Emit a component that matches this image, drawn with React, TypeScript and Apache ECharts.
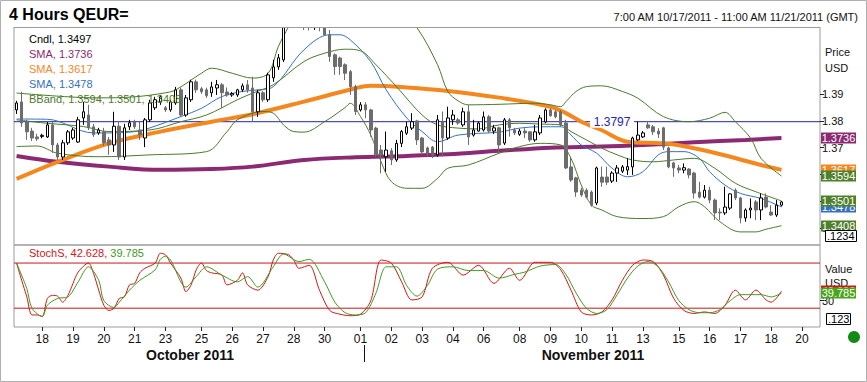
import React, { useEffect, useRef } from 'react';
import * as echarts from 'echarts';

const FONT = "'Liberation Sans', Arial, sans-serif";
const NARROW = "'Liberation Sans Narrow', 'Liberation Sans', Arial, sans-serif";

// trading sessions shown on the axis (4-hour bars, weekends collapsed)
const tradingDays: [string, string][] = [
  ['10/17', 'first'], ['10/18', 'full'], ['10/19', 'full'], ['10/20', 'full'], ['10/21', 'full'], ['10/23', 'sun'],
  ['10/24', 'full'], ['10/25', 'full'], ['10/26', 'full'], ['10/27', 'full'], ['10/28', 'full'], ['10/30', 'sun'],
  ['10/31', 'full'], ['11/01', 'full'], ['11/02', 'full'], ['11/03', 'full'], ['11/04', 'full'], ['11/06', 'sun'],
  ['11/07', 'full'], ['11/08', 'full'], ['11/09', 'full'], ['11/10', 'full'], ['11/11', 'full'], ['11/13', 'sun'],
  ['11/14', 'full'], ['11/15', 'full'], ['11/16', 'full'], ['11/17', 'full'], ['11/18', 'full'], ['11/20', 'sun'],
  ['11/21', 'last'],
];
const sessionHours: Record<string, number[]> = {
  first: [7, 11, 15, 19, 23], full: [3, 7, 11, 15, 19, 23], sun: [23], last: [3, 7, 11],
};
const labeledDates = ['10/18', '10/19', '10/20', '10/21', '10/23', '10/25', '10/26', '10/27', '10/28', '10/30',
  '11/01', '11/02', '11/03', '11/04', '11/06', '11/08', '11/09', '11/10', '11/11', '11/13', '11/15', '11/16',
  '11/17', '11/18', '11/20'];
const priceTicks = [1.34, 1.35, 1.36, 1.37, 1.38, 1.39];
const stochTicks = [30];

// candles: [open, close, low, high]
const candles: number[][] = [
  [1.3841, 1.3867, 1.3826, 1.3875], [1.3871, 1.3792, 1.3778, 1.3909], [1.3796, 1.3759, 1.3729, 1.3804], [1.3762, 1.3736, 1.3725, 1.3774],
  [1.3740, 1.3733, 1.3725, 1.3752], [1.3742, 1.3746, 1.3735, 1.3752], [1.3740, 1.3785, 1.3736, 1.3796], [1.3785, 1.3710, 1.3680, 1.3796],
  [1.3710, 1.3665, 1.3654, 1.3718], [1.3665, 1.3718, 1.3654, 1.3729], [1.3718, 1.3759, 1.3710, 1.3766], [1.3736, 1.3766, 1.3729, 1.3774],
  [1.3721, 1.3804, 1.3718, 1.3815], [1.3811, 1.3834, 1.3785, 1.3871], [1.3822, 1.3774, 1.3766, 1.3860], [1.3778, 1.3748, 1.3740, 1.3789],
  [1.3755, 1.3766, 1.3748, 1.3774], [1.3759, 1.3718, 1.3706, 1.3774], [1.3729, 1.3710, 1.3673, 1.3740], [1.3710, 1.3780, 1.3684, 1.3834],
  [1.3780, 1.3665, 1.3654, 1.3800], [1.3665, 1.3774, 1.3654, 1.3789], [1.3778, 1.3793, 1.3766, 1.3804], [1.3796, 1.3778, 1.3770, 1.3804],
  [1.3766, 1.3748, 1.3729, 1.3796], [1.3736, 1.3804, 1.3702, 1.3811], [1.3804, 1.3867, 1.3796, 1.3879], [1.3849, 1.3879, 1.3841, 1.3890],
  [1.3871, 1.3890, 1.3860, 1.3897], [1.3849, 1.3841, 1.3834, 1.3856], [1.3841, 1.3871, 1.3834, 1.3879], [1.3867, 1.3916, 1.3860, 1.3927],
  [1.3916, 1.3822, 1.3815, 1.3924], [1.3822, 1.3886, 1.3815, 1.3897], [1.3879, 1.3946, 1.3871, 1.3954], [1.3946, 1.3916, 1.3905, 1.3954],
  [1.3920, 1.3909, 1.3901, 1.3927], [1.3916, 1.3894, 1.3886, 1.3924], [1.3905, 1.3927, 1.3890, 1.3946], [1.3923, 1.3935, 1.3897, 1.3953],
  [1.3935, 1.3905, 1.3849, 1.3942], [1.3908, 1.3897, 1.3890, 1.3925], [1.3897, 1.3902, 1.3890, 1.3908], [1.3897, 1.3916, 1.3890, 1.3920],
  [1.3916, 1.3931, 1.3908, 1.3940], [1.3935, 1.3916, 1.3905, 1.3953], [1.3923, 1.3834, 1.3796, 1.3965], [1.3834, 1.3905, 1.3815, 1.3916],
  [1.3905, 1.3879, 1.3871, 1.3912], [1.3879, 1.3972, 1.3871, 1.3980], [1.3961, 1.4002, 1.3946, 1.4028], [1.4002, 1.4036, 1.3991, 1.4050],
  [1.4028, 1.4170, 1.4020, 1.4190], [1.4170, 1.4230, 1.4160, 1.4247], [1.4230, 1.4200, 1.4180, 1.4240], [1.4200, 1.4190, 1.4170, 1.4215],
  [1.4190, 1.4175, 1.4140, 1.4200], [1.4175, 1.4165, 1.4138, 1.4190], [1.4165, 1.4170, 1.4140, 1.4185], [1.4170, 1.4150, 1.4135, 1.4180],
  [1.4150, 1.4122, 1.4118, 1.4165], [1.4122, 1.4041, 1.4021, 1.4140], [1.4047, 1.4003, 1.3972, 1.4052], [1.4035, 1.4003, 1.3972, 1.4040],
  [1.4010, 1.3978, 1.3953, 1.4015], [1.3984, 1.3928, 1.3897, 1.3990], [1.3928, 1.3835, 1.3822, 1.3935], [1.3841, 1.3860, 1.3835, 1.3870],
  [1.3860, 1.3841, 1.3810, 1.3870], [1.3841, 1.3766, 1.3741, 1.3845], [1.3773, 1.3673, 1.3666, 1.3778], [1.3691, 1.3673, 1.3604, 1.3710],
  [1.3666, 1.3691, 1.3610, 1.3760], [1.3688, 1.3654, 1.3635, 1.3698], [1.3654, 1.3716, 1.3647, 1.3729], [1.3716, 1.3760, 1.3702, 1.3766],
  [1.3754, 1.3778, 1.3747, 1.3797], [1.3773, 1.3797, 1.3766, 1.3829], [1.3800, 1.3729, 1.3710, 1.3804], [1.3736, 1.3684, 1.3680, 1.3740],
  [1.3699, 1.3680, 1.3666, 1.3704], [1.3702, 1.3673, 1.3661, 1.3706], [1.3673, 1.3804, 1.3666, 1.3822], [1.3796, 1.3736, 1.3666, 1.3835],
  [1.3736, 1.3811, 1.3729, 1.3853], [1.3804, 1.3822, 1.3785, 1.3841], [1.3804, 1.3792, 1.3785, 1.3811], [1.3785, 1.3834, 1.3778, 1.3849],
  [1.3834, 1.3740, 1.3710, 1.3860], [1.3747, 1.3766, 1.3741, 1.3804], [1.3762, 1.3792, 1.3760, 1.3797], [1.3766, 1.3815, 1.3760, 1.3835],
  [1.3815, 1.3762, 1.3755, 1.3822], [1.3762, 1.3774, 1.3751, 1.3785], [1.3774, 1.3710, 1.3684, 1.3778], [1.3717, 1.3804, 1.3710, 1.3811],
  [1.3804, 1.3774, 1.3741, 1.3811], [1.3766, 1.3755, 1.3747, 1.3774], [1.3750, 1.3762, 1.3744, 1.3770], [1.3762, 1.3755, 1.3736, 1.3773],
  [1.3759, 1.3729, 1.3722, 1.3762], [1.3729, 1.3759, 1.3722, 1.3785], [1.3755, 1.3811, 1.3747, 1.3822], [1.3796, 1.3841, 1.3791, 1.3847],
  [1.3841, 1.3819, 1.3816, 1.3847], [1.3834, 1.3815, 1.3810, 1.3840], [1.3834, 1.3785, 1.3778, 1.3841], [1.3792, 1.3624, 1.3620, 1.3804],
  [1.3628, 1.3579, 1.3572, 1.3666], [1.3587, 1.3534, 1.3516, 1.3591], [1.3541, 1.3523, 1.3516, 1.3550], [1.3541, 1.3515, 1.3510, 1.3548],
  [1.3534, 1.3485, 1.3479, 1.3540], [1.3493, 1.3624, 1.3485, 1.3629], [1.3590, 1.3571, 1.3554, 1.3629], [1.3590, 1.3571, 1.3560, 1.3629],
  [1.3575, 1.3605, 1.3568, 1.3612], [1.3605, 1.3624, 1.3572, 1.3635], [1.3612, 1.3628, 1.3605, 1.3635], [1.3616, 1.3629, 1.3598, 1.3660],
  [1.3628, 1.3736, 1.3598, 1.3741], [1.3729, 1.3747, 1.3725, 1.3797], [1.3740, 1.3755, 1.3736, 1.3762], [1.3785, 1.3774, 1.3770, 1.3800],
  [1.3778, 1.3759, 1.3747, 1.3785], [1.3762, 1.3751, 1.3736, 1.3773], [1.3774, 1.3702, 1.3691, 1.3778], [1.3699, 1.3628, 1.3623, 1.3704],
  [1.3643, 1.3624, 1.3591, 1.3647], [1.3624, 1.3616, 1.3604, 1.3635], [1.3616, 1.3625, 1.3604, 1.3641], [1.3620, 1.3598, 1.3585, 1.3623],
  [1.3605, 1.3530, 1.3510, 1.3610], [1.3534, 1.3515, 1.3510, 1.3572], [1.3515, 1.3541, 1.3510, 1.3560], [1.3541, 1.3504, 1.3492, 1.3554],
  [1.3504, 1.3456, 1.3429, 1.3510], [1.3459, 1.3456, 1.3429, 1.3473], [1.3456, 1.3478, 1.3448, 1.3554], [1.3474, 1.3527, 1.3467, 1.3529],
  [1.3541, 1.3512, 1.3504, 1.3548], [1.3512, 1.3437, 1.3417, 1.3516], [1.3437, 1.3467, 1.3423, 1.3473], [1.3467, 1.3474, 1.3436, 1.3510],
  [1.3497, 1.3467, 1.3429, 1.3504], [1.3467, 1.3512, 1.3429, 1.3529], [1.3515, 1.3478, 1.3473, 1.3529], [1.3459, 1.3448, 1.3444, 1.3485],
  [1.3448, 1.3485, 1.3441, 1.3504], [1.3485, 1.3497, 1.3480, 1.3500],
];

// indicator readings: [bar index, value]
const smaPurple: number[][] = [[0, 1.3669], [8, 1.3647], [18, 1.3629], [28, 1.3617], [38, 1.3620], [46, 1.3629], [56, 1.3654],
  [66, 1.3664], [76, 1.3669], [84, 1.3675], [94, 1.3688], [104, 1.3700], [114, 1.3704], [122, 1.3710], [132, 1.3720], [142, 1.3729], [149, 1.3736]];
const smaOrange: number[][] = [[0, 1.3583], [8, 1.3647], [18, 1.3716], [28, 1.3760], [38, 1.3797], [46, 1.3825], [56, 1.3872],
  [66, 1.3922], [69, 1.3931], [76, 1.3925], [84, 1.3912], [94, 1.3887], [104, 1.3853], [107, 1.3829], [110, 1.3797], [114, 1.3765],
  [119, 1.3722], [126, 1.3716], [132, 1.3698], [139, 1.3666], [145, 1.3635], [149, 1.3617]];
const smaBlue: number[][] = [[0, 1.3807], [6, 1.3806], [15, 1.3755], [18, 1.3755], [23, 1.3760], [26, 1.3774], [32, 1.3816],
  [36, 1.3847], [40, 1.3891], [44, 1.3910], [47, 1.3916], [50, 1.3928], [56, 1.4066], [61, 1.4122], [63, 1.4122], [65, 1.4103],
  [69, 1.4021], [72, 1.3916], [76, 1.3811], [79, 1.3760], [82, 1.3722], [86, 1.3747], [94, 1.3758], [98, 1.3773], [102, 1.3778],
  [106, 1.3778], [108, 1.3747], [110, 1.3710], [113, 1.3679], [116, 1.3623], [119, 1.3591], [122, 1.3610], [125, 1.3673],
  [127, 1.3685], [130, 1.3685], [133, 1.3660], [135, 1.3610], [138, 1.3560], [141, 1.3529], [145, 1.3510], [149, 1.3478]];
const bandUpper: number[][] = [[0, 1.3904], [10, 1.3890], [16, 1.3886], [23, 1.3890], [29, 1.3905], [31, 1.3916], [36, 1.3978],
  [38, 1.3997], [42, 1.3978], [46, 1.3960], [49, 1.3978], [51, 1.4078], [53, 1.4152], [56, 1.4250], [63, 1.4300], [70, 1.4260],
  [75, 1.4200], [78, 1.4148], [82, 1.4010], [84, 1.3910], [86, 1.3875], [88, 1.3860], [94, 1.3862], [101, 1.3866], [104, 1.3860],
  [106, 1.3853], [107, 1.3872], [109, 1.3910], [111, 1.3928], [114, 1.3931], [118, 1.3910], [121, 1.3885], [126, 1.3816],
  [131, 1.3797], [135, 1.3810], [138, 1.3832], [140, 1.3797], [143, 1.3735], [145, 1.3660], [149, 1.3594]];
const bandMiddle: number[][] = [[0, 1.3804], [6, 1.3791], [13, 1.3779], [18, 1.3760], [26, 1.3766], [32, 1.3797], [37, 1.3822],
  [43, 1.3879], [46, 1.3904], [50, 1.3935], [56, 1.4022], [60, 1.4053], [64, 1.4068], [67, 1.4062], [70, 1.4010], [74, 1.3928],
  [79, 1.3822], [82, 1.3785], [86, 1.3773], [90, 1.3770], [94, 1.3785], [98, 1.3791], [102, 1.3788], [106, 1.3785], [108, 1.3760],
  [111, 1.3729], [114, 1.3698], [117, 1.3673], [120, 1.3654], [124, 1.3647], [128, 1.3654], [132, 1.3660], [136, 1.3623],
  [140, 1.3567], [144, 1.3535], [149, 1.3501]];
const bandLower: number[][] = [[0, 1.3704], [4, 1.3706], [8, 1.3679], [16, 1.3666], [26, 1.3673], [37, 1.3685], [41, 1.3760],
  [43, 1.3804], [48, 1.3835], [50, 1.3829], [52, 1.3785], [54, 1.3760], [56, 1.3758], [60, 1.3797], [64, 1.3850], [65, 1.3866],
  [67, 1.3816], [69, 1.3747], [71, 1.3647], [73, 1.3573], [76, 1.3548], [79, 1.3548], [82, 1.3585], [84, 1.3623], [88, 1.3635],
  [94, 1.3679], [98, 1.3704], [102, 1.3716], [106, 1.3710], [108, 1.3660], [110, 1.3560], [112, 1.3485], [114, 1.3467],
  [117, 1.3442], [122, 1.3435], [126, 1.3442], [129, 1.3479], [132, 1.3498], [134, 1.3479], [137, 1.3423], [141, 1.3385],
  [144, 1.3385], [146, 1.3395], [149, 1.3408]];
const stochK: number[][] = [[0, 80], [1, 57], [2, 35], [3, 11], [4, 11], [5, 9], [6, 33], [7, 37], [8, 36], [9, 28], [10, 37],
  [11, 53], [12, 68], [14, 80], [15, 66], [16, 44], [17, 24], [18, 17], [19, 20], [20, 33], [21, 35], [22, 51], [23, 53], [24, 67],
  [25, 73], [27, 80], [28, 93], [29, 91], [30, 80], [32, 60], [33, 42], [34, 51], [35, 71], [36, 80], [37, 70], [38, 67], [40, 64],
  [41, 51], [43, 57], [44, 67], [45, 51], [47, 44], [49, 62], [50, 84], [51, 93], [53, 91], [54, 84], [55, 73], [57, 77], [59, 44],
  [61, 17], [63, 12], [65, 10], [67, 12], [69, 30], [71, 84], [73, 80], [75, 55], [77, 31], [79, 35], [81, 73], [84, 81], [87, 64],
  [90, 77], [93, 53], [96, 73], [98, 57], [101, 81], [104, 81], [106, 71], [108, 44], [110, 15], [112, 11], [114, 15], [116, 31],
  [118, 57], [120, 77], [122, 84], [124, 82], [126, 64], [128, 33], [130, 17], [132, 13], [134, 15], [136, 13], [138, 24],
  [140, 44], [142, 31], [144, 44], [146, 31], [147, 28], [149, 42.628]];
const stochD: number[][] = [[0, 80], [2, 46], [3, 20], [5, 9], [6, 24], [8, 33], [10, 35], [12, 55], [14, 75], [16, 57], [17, 30],
  [19, 21], [20, 28], [22, 44], [24, 57], [27, 71], [28, 85], [29, 89], [30, 84], [33, 48], [35, 62], [37, 75], [40, 64], [43, 55],
  [45, 62], [47, 48], [50, 75], [52, 92], [55, 82], [57, 85], [60, 55], [62, 28], [64, 14], [66, 11], [68, 14], [70, 40], [72, 75],
  [74, 75], [76, 50], [78, 36], [80, 50], [82, 72], [85, 75], [88, 70], [91, 70], [94, 60], [97, 65], [99, 68], [102, 76], [105, 78],
  [107, 65], [109, 40], [111, 20], [113, 13], [115, 18], [117, 38], [119, 60], [121, 76], [123, 82], [125, 75], [127, 55], [129, 30],
  [131, 18], [133, 14], [135, 14], [137, 18], [139, 30], [141, 38], [143, 38], [145, 38], [147, 35], [149, 39.785]];

const hLineLevel = 1.3797;
const stochLevels = [80, 20];

const C_PURPLE = '#8b2a72';
const C_ORANGE = '#f5871f';
const C_BLUE = '#3470c4';
const C_GREEN = '#4b7a2b';
const C_RED = '#d01818';
const C_DGREEN = '#3f9a22';
const C_TAGGREEN = '#4aa51c';
const C_NAVY = '#2323b4';
const C_LEVEL = '#c81818';
const C_BORDER = '#9c9c9c';

export default function App() {
  const ref = useRef<HTMLDivElement>(null);
  useEffect(() => {
    document.body.style.margin = '0';
    if (!ref.current) return;
    const chart = echarts.init(ref.current, undefined, { renderer: 'svg' });

    const categories: string[] = [];
    tradingDays.forEach(([d, kind]) => {
      sessionHours[kind].forEach((h) => categories.push(`${d} ${String(h).padStart(2, '0')}:00`));
    });
    const firstBar: Record<string, number> = {};
    categories.forEach((c, i) => {
      const d = c.split(' ')[0];
      if (!(d in firstBar)) firstBar[d] = i;
    });
    const labelIdx = new Set(labeledDates.map((d) => firstBar[d]));
    const showIdx = (idx: number) => labelIdx.has(idx);
    const lastOf = (a: number[][]) => a[a.length - 1][1];

    const line = (data: number[][], color: string, width: number, z: number) => ({
      type: 'line', xAxisIndex: 0, yAxisIndex: 0, data, symbol: 'none', showSymbol: false, smooth: 0.35,
      lineStyle: { color, width }, z, clip: true, silent: true,
    });
    // full-width horizontal level drawn on a hidden 0..1 value axis
    const level = (v: number, color: string, xi: number, yi: number, z: number) => ({
      type: 'line', xAxisIndex: xi, yAxisIndex: yi, data: [[0, v], [1, v]], symbol: 'none', silent: true,
      itemStyle: { color }, lineStyle: { color, width: 1 }, z,
    });

    const baseGraphics: any[] = [
      // mask for the part of the clipped candles above the price panel
      { type: 'rect', z: 100, shape: { x: 13, y: 1, width: 808, height: 26 }, style: { fill: '#ffffff' }, silent: true },
      { type: 'line', z: 101, shape: { x1: 14, y1: 27.5, x2: 820, y2: 27.5 }, style: { stroke: C_BORDER, lineWidth: 1 }, silent: true },
      { type: 'rect', z: 101, shape: { x: 0.5, y: 0.5, width: 866, height: 381 }, style: { fill: 'none', stroke: '#b0b0b0', lineWidth: 1 }, silent: true },
      { type: 'text', z: 102, x: 9, y: 14, style: { text: '4 Hours QEUR=', font: `bold 16px ${FONT}`, fill: '#000', textVerticalAlign: 'middle' } },
      { type: 'text', z: 102, x: 858, y: 17, style: { text: '7:00 AM 10/17/2011 - 11:00 AM 11/21/2011 (GMT)', font: `11px ${FONT}`, fill: '#111', textAlign: 'right', textVerticalAlign: 'middle' } },
      { type: 'text', x: 29, y: 39, z: 20, style: { text: `Cndl, ${candles[candles.length - 1][1].toFixed(4)}`, font: `11px ${FONT}`, fill: '#000', textVerticalAlign: 'middle' } },
      { type: 'text', x: 29, y: 54, z: 20, style: { text: `SMA, ${lastOf(smaPurple).toFixed(4)}`, font: `11px ${FONT}`, fill: C_PURPLE, textVerticalAlign: 'middle' } },
      { type: 'text', x: 29, y: 69, z: 20, style: { text: `SMA, ${lastOf(smaOrange).toFixed(4)}`, font: `11px ${FONT}`, fill: C_ORANGE, textVerticalAlign: 'middle' } },
      { type: 'text', x: 29, y: 84, z: 20, style: { text: `SMA, ${lastOf(smaBlue).toFixed(4)}`, font: `11px ${FONT}`, fill: C_BLUE, textVerticalAlign: 'middle' } },
      { type: 'text', x: 29, y: 99, z: 20, style: { text: `BBand, ${lastOf(bandUpper).toFixed(4)}, ${lastOf(bandMiddle).toFixed(4)}, ${lastOf(bandLower).toFixed(4)}`, font: `11px ${FONT}`, fill: C_GREEN, textVerticalAlign: 'middle' } },
      { type: 'text', x: 29, y: 253, z: 20, style: { text: `{r|StochS, ${lastOf(stochK).toFixed(3)},} {g|${lastOf(stochD).toFixed(3)}}`, font: `11px ${FONT}`, textVerticalAlign: 'middle',
        rich: { r: { fill: C_RED, font: `11px ${FONT}` }, g: { fill: C_DGREEN, font: `11px ${FONT}` } } } },
      { type: 'text', x: 825, y: 52, style: { text: 'Price', font: `11px ${FONT}`, fill: '#111', textVerticalAlign: 'middle' } },
      { type: 'text', x: 825, y: 68, style: { text: 'USD', font: `11px ${FONT}`, fill: '#111', textVerticalAlign: 'middle' } },
      { type: 'text', x: 825, y: 269, style: { text: 'Value', font: `11px ${FONT}`, fill: '#111', textVerticalAlign: 'middle' } },
      { type: 'text', x: 825, y: 283, z: 0, style: { text: 'USD', font: `11px ${FONT}`, fill: '#111', textVerticalAlign: 'middle' } },
      { type: 'rect', z: 60, shape: { x: 825.5, y: 230.5, width: 31, height: 11 }, style: { fill: '#fff', stroke: '#000', lineWidth: 1 } },
      { type: 'text', z: 61, x: 827, y: 236, style: { text: '.1234', font: `11px ${FONT}`, fill: '#000', textVerticalAlign: 'middle' } },
      { type: 'rect', z: 60, shape: { x: 826.5, y: 313.5, width: 24, height: 11 }, style: { fill: '#fff', stroke: '#000', lineWidth: 1 } },
      { type: 'text', z: 61, x: 828, y: 319, style: { text: '.123', font: `11px ${FONT}`, fill: '#000', textVerticalAlign: 'middle' } },
      { type: 'circle', shape: { cx: 854, cy: 337, r: 6 }, style: { fill: '#138a13' } },
      { type: 'text', x: 190, y: 355, style: { text: 'October 2011', font: `bold 14px ${NARROW}`, fill: '#111', textAlign: 'center', textVerticalAlign: 'middle' } },
      { type: 'text', x: 593, y: 355, style: { text: 'November 2011', font: `bold 14px ${NARROW}`, fill: '#111', textAlign: 'center', textVerticalAlign: 'middle' } },
      { type: 'line', shape: { x1: 364.5, y1: 345, x2: 364.5, y2: 362 }, style: { stroke: '#111', lineWidth: 1 } },
    ];

    const option: any = {
      animation: false,
      backgroundColor: '#ffffff',
      textStyle: { fontFamily: FONT },
      grid: [
        { left: 14, top: 27, width: 806, height: 218, show: true, borderColor: C_BORDER, borderWidth: 1, containLabel: false },
        { left: 14, top: 245, width: 806, height: 82, show: true, borderColor: C_BORDER, borderWidth: 1, containLabel: false },
      ],
      xAxis: [
        { type: 'category', gridIndex: 0, data: categories, boundaryGap: true, axisLine: { show: false, onZero: false },
          axisTick: { show: false }, axisLabel: { show: false }, splitLine: { show: false } },
        { type: 'category', gridIndex: 1, data: categories, boundaryGap: true, axisLine: { show: false, onZero: false },
          axisTick: { show: true, interval: showIdx, alignWithLabel: true, length: 4, lineStyle: { color: '#222' } },
          axisLabel: { interval: showIdx, formatter: (v: string) => v.split(' ')[0].split('/')[1], color: '#111',
            fontSize: 12, fontFamily: NARROW, margin: 6 },
          splitLine: { show: false } },
        { type: 'value', gridIndex: 0, min: 0, max: 1, show: false, axisLine: { onZero: false } },
        { type: 'value', gridIndex: 1, min: 0, max: 1, show: false, axisLine: { onZero: false } },
      ],
      yAxis: [
        { type: 'value', gridIndex: 0, position: 'right', min: 1.3336, max: 1.4151, scale: true,
          axisLine: { show: false, onZero: false }, splitLine: { show: false },
          axisTick: { show: true, length: 4, customValues: priceTicks, lineStyle: { color: '#222' } },
          axisLabel: { customValues: priceTicks, formatter: (v: number) => v.toFixed(2), color: '#111', fontSize: 11, margin: 2, fontFamily: FONT } },
        { type: 'value', gridIndex: 1, position: 'right', min: -5, max: 104,
          axisLine: { show: false, onZero: false }, splitLine: { show: false },
          axisTick: { show: true, length: 4, customValues: stochTicks, lineStyle: { color: '#222' } },
          axisLabel: { customValues: stochTicks, color: '#111', fontSize: 11, margin: 2, fontFamily: FONT } },
      ],
      series: [
        level(hLineLevel, C_NAVY, 2, 0, 2),
        ...stochLevels.map((v) => level(v, C_LEVEL, 3, 1, 2)),
        line(smaPurple, C_PURPLE, 4, 3),
        line(smaOrange, C_ORANGE, 4, 4),
        line(smaBlue, C_BLUE, 1, 5),
        line(bandUpper, C_GREEN, 1, 5),
        line(bandMiddle, C_GREEN, 1, 5),
        line(bandLower, C_GREEN, 1, 5),
        {
          type: 'candlestick', xAxisIndex: 0, yAxisIndex: 0, data: candles, barWidth: 3, z: 6, clip: true, silent: true,
          itemStyle: { color: '#ffffff', color0: '#6d6d6d', borderColor: '#000000', borderColor0: '#6d6d6d', borderWidth: 1 },
          markPoint: { silent: true, symbol: 'rect', symbolSize: [44, 12], itemStyle: { color: '#ffffff' },
            label: { show: true, formatter: hLineLevel.toFixed(4), color: C_NAVY, fontSize: 12, fontFamily: FONT },
            data: [{ coord: [116, hLineLevel] }] },
        },
        { type: 'line', xAxisIndex: 1, yAxisIndex: 1, data: stochK, symbol: 'none', smooth: 0.3,
          lineStyle: { color: C_RED, width: 1 }, z: 4, silent: true },
        { type: 'line', xAxisIndex: 1, yAxisIndex: 1, data: stochD, symbol: 'none', smooth: 0.3,
          lineStyle: { color: C_DGREEN, width: 1 }, z: 5, silent: true },
      ],
      graphic: { elements: baseGraphics },
    };
    chart.setOption(option);

    // last-value tags on the value axes, placed through the axes' own scales
    const tags: [number, number, string, string][] = [
      [0, lastOf(smaPurple), lastOf(smaPurple).toFixed(4), C_PURPLE],
      [0, lastOf(smaOrange), lastOf(smaOrange).toFixed(4), C_ORANGE],
      [0, lastOf(smaBlue), lastOf(smaBlue).toFixed(4), C_BLUE],
      [0, lastOf(bandUpper), lastOf(bandUpper).toFixed(4), C_TAGGREEN === '' ? C_GREEN : '#4f7f2a'],
      [0, lastOf(bandMiddle), lastOf(bandMiddle).toFixed(4), '#4f7f2a'],
      [0, lastOf(bandLower), lastOf(bandLower).toFixed(4), '#4f7f2a'],
      [1, lastOf(stochK), lastOf(stochK).toFixed(3), C_RED],
      [1, lastOf(stochD), lastOf(stochD).toFixed(3), C_TAGGREEN],
    ];
    const tagGraphics: any[] = [];
    tags.forEach(([yi, v, text, color], k) => {
      const y = chart.convertToPixel({ yAxisIndex: yi }, v) as number;
      tagGraphics.push(
        { type: 'rect', z: 40 + k * 2, shape: { x: 821, y: Math.round(y) - 5.5, width: 35, height: 11 }, style: { fill: color }, silent: true },
        { type: 'text', z: 41 + k * 2, x: 838.5, y: Math.round(y), style: { text, font: `11px ${FONT}`, fill: '#ffffff', textAlign: 'center', textVerticalAlign: 'middle' }, silent: true },
      );
    });
    chart.setOption({ graphic: { elements: [...baseGraphics, ...tagGraphics] } });
    return () => chart.dispose();
  }, []);
  return <div ref={ref} style={{ width: 867, height: 382 }} />;
}
